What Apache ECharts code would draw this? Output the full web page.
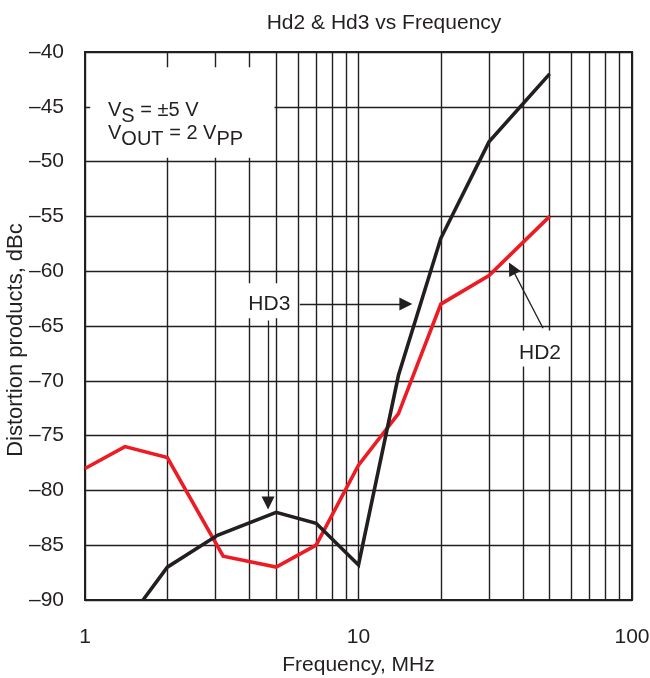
<!DOCTYPE html>
<html>
<head>
<meta charset="utf-8">
<script src="https://cdn.jsdelivr.net/npm/echarts@6/dist/echarts.min.js"></script>
<style>
  html, body { margin: 0; padding: 0; background: #fff; }
  #chart { width: 650px; height: 678px; }
</style>
</head>
<body>
<div id="chart"></div>
<script>
// Frequency (MHz) and distortion (dBc) for each harmonic
const hd3Freq = [1.63, 2, 3.05, 5, 7, 10, 14, 20, 30, 50];
const hd3Dbc  = [-90, -87, -84.1, -82, -83, -86.8, -69.5, -57, -48.2, -42];
const hd2Freq = [1, 1.4, 2, 3.2, 5, 7, 10, 14, 20, 30, 50];
const hd2Dbc  = [-78, -76, -77, -86, -87, -85, -77.7, -73, -63, -60.4, -55];

// Log grid lines between the decades
const minorFreq = [2, 3, 4, 5, 6, 7, 8, 9, 20, 30, 40, 50, 60, 70, 80, 90];

const INK = '#231f20';
const FONT = '"Liberation Sans", Arial, sans-serif';
const FS = 21;

const pairs = (xs, ys) => xs.map((x, i) => [x, ys[i]]);

const chart = echarts.init(document.getElementById('chart'));

chart.setOption({
  animation: false,
  backgroundColor: '#fff',
  textStyle: { fontFamily: FONT, color: INK },
  title: {
    text: 'Hd2 & Hd3 vs Frequency',
    left: 379, top: 8, textAlign: 'center',
    textStyle: { fontFamily: FONT, fontSize: FS, fontWeight: 'normal', color: INK }
  },
  grid: {
    left: 85, right: 18, top: 52, bottom: 78,
    containLabel: false, outerBoundsMode: 'none',
    show: true, borderColor: INK, borderWidth: 2, backgroundColor: '#fff'
  },
  xAxis: {
    type: 'log', logBase: 10, min: 1, max: 100,
    name: 'Frequency, MHz', nameLocation: 'middle', nameGap: 55,
    nameMoveOverlap: false,
    nameTextStyle: { fontFamily: FONT, fontSize: FS, color: INK },
    axisLine: { show: false }, axisTick: { show: false },
    axisLabel: { margin: 27, fontFamily: FONT, fontSize: FS, color: INK },
    splitLine: { show: true, lineStyle: { color: INK, width: 1.4 } }
  },
  yAxis: {
    type: 'value', min: -90, max: -40, interval: 5,
    name: 'Distortion products, dBc', nameLocation: 'middle', nameGap: 58,
    nameMoveOverlap: false,
    nameTextStyle: {
      fontFamily: FONT, fontSize: 22, color: INK,
      padding: [0, 28, 0, 0]
    },
    axisLine: { show: false }, axisTick: { show: false },
    axisLabel: {
      margin: 21, fontFamily: FONT, fontSize: FS, color: INK,
      formatter: v => String(v).replace('-', '\u2013')
    },
    splitLine: { show: true, lineStyle: { color: INK, width: 1.4 } }
  },
  series: [
    {
      // minor vertical grid lines
      type: 'line', data: [], z: 1, silent: true,
      markLine: {
        z: 1, silent: true, symbol: 'none', label: { show: false },
        lineStyle: { color: INK, width: 1.4, type: 'solid' },
        data: minorFreq.map(f => ({ xAxis: f }))
      }
    },
    {
      // white backing behind the annotation texts
      type: 'line', data: [], z: 2, silent: true,
      markArea: {
        z: 2, silent: true,
        itemStyle: { color: '#fff', opacity: 1 },
        label: { show: false },
        data: [
          [{ coord: [1.045, -41.4] }, { coord: [4.93, -49.65] }],
          [{ coord: [3.69, -61.1] }, { coord: [5.9, -64.3] }],
          [{ coord: [34.3, -65.4] }, { coord: [56.9, -68.7] }]
        ]
      }
    },
    {
      name: 'HD2', type: 'line', z: 3,
      data: pairs(hd2Freq, hd2Dbc),
      showSymbol: false, clip: true,
      lineStyle: { color: '#ed1c24', width: 3.6, join: 'miter' }
    },
    {
      name: 'HD3', type: 'line', z: 4,
      data: pairs(hd3Freq, hd3Dbc),
      showSymbol: false, clip: true,
      lineStyle: { color: INK, width: 3.6, join: 'miter' }
    },
    {
      // pointer arrows and labels
      type: 'line', data: [], z: 5, silent: true,
      markLine: {
        z: 6, silent: true,
        symbol: ['none', 'triangle'], symbolSize: 13,
        label: { show: false },
        itemStyle: { color: INK },
        lineStyle: { color: INK, width: 1.3, type: 'solid' },
        data: [
          [{ coord: [6.1, -63] }, { coord: [14.9, -63] }],
          [{ coord: [4.67, -64.5] }, { coord: [4.67, -81.15] }],
          [{ coord: [47.3, -65.2] }, { coord: [36.4, -59.74] }]
        ]
      },
      markPoint: {
        z: 6, silent: true, symbol: 'circle', symbolSize: 0,
        label: {
          show: true, position: 'inside', color: INK,
          fontFamily: FONT, fontSize: FS
        },
        data: [
          { coord: [4.72, -63], value: 'HD3', label: { formatter: 'HD3' } },
          { coord: [46.1, -67.5], value: 'HD2', label: { formatter: 'HD2' } },
          {
            coord: [1.214, -46.4], value: 'cond',
            label: {
              position: 'right', distance: 0, align: 'left',
              formatter: '{n|V}{s|S}{n| = \u00b15 V}\n{n|V}{s|OUT}{n| = 2 V}{s|PP}',
              rich: {
                n: { fontFamily: FONT, fontSize: 20, color: INK, lineHeight: 23 },
                s: { fontFamily: FONT, fontSize: 20, color: INK, lineHeight: 11, padding: [12, 0, 0, 0] }
              }
            }
          }
        ]
      }
    }
  ]
});
</script>
</body>
</html>
